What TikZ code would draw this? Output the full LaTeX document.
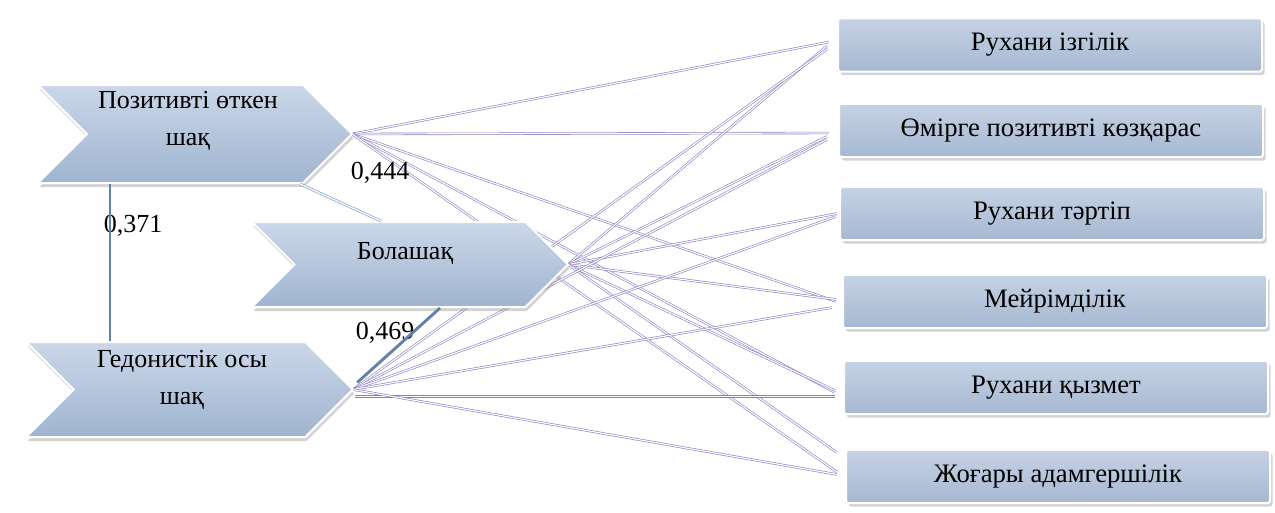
\documentclass[tikz,border=0pt]{standalone}
\usepackage{fontspec}
\setmainfont{Liberation Serif}
\usetikzlibrary{shapes.symbols,shadows,calc}

\definecolor{chevtop}{RGB}{203,215,233}
\definecolor{chevbot}{RGB}{160,180,208}
\definecolor{boxtop}{RGB}{198,210,228}
\definecolor{boxbot}{RGB}{166,184,210}
\definecolor{linkcol}{RGB}{140,124,196}
\definecolor{corrcol}{RGB}{98,130,170}
\definecolor{corrlight}{RGB}{125,158,198}

\tikzset{
  chev/.style={signal, signal to=east, signal from=west, signal pointer angle=90,
    draw=white, line width=1.5pt, top color=chevtop, bottom color=chevbot,
    drop shadow={shadow xshift=1pt, shadow yshift=-3pt, opacity=.35}, inner sep=0pt},
  outbox/.style={rectangle, rounded corners=2pt, draw=white, line width=1.5pt,
    top color=boxtop, bottom color=boxbot, minimum width=318pt, minimum height=40pt,
    drop shadow={shadow xshift=2pt, shadow yshift=-2.5pt, opacity=.35},
    font=\fontsize{20}{24}\selectfont},
  txt/.style={align=center, font=\fontsize{19.5}{27.75}\selectfont, inner sep=0.75pt},
  num/.style={font=\fontsize{19.5}{22}\selectfont, inner sep=0.75pt},
  link/.style={draw=linkcol, line width=0.45pt, double=white, double distance=0.9pt},
  corr/.style={draw=corrcol, line width=2.2pt},
  corrthin/.style={draw=corrlight, line width=0.5pt, double=white, double distance=1pt}
}

\begin{document}
\begin{tikzpicture}[x=0.75pt,y=0.75pt,yscale=-1,xscale=1]
\useasboundingbox (0,0) rectangle (1275,512);

% right boxes
\node[outbox] (r1) at (1050,45) {Рухани ізгілік};
\node[outbox] (r2) at (1051,130.5) {Өмірге позитивті көзқарас};
\node[outbox] (r3) at (1052,213.5) {Рухани тәртіп};
\node[outbox] (r4) at (1055,301.5) {Мейрімділік};
\node[outbox] (r5) at (1056,387.5) {Рухани қызмет};
\node[outbox] (r6) at (1058,476.5) {Жоғары адамгершілік};

% centres and tips of the chevrons
\path (195,134) coordinate (pastc) (410,264.5) coordinate (futc) (189.5,389.5) coordinate (hedc);
\path (pastc) ++(157,0) coordinate (pastE);
\path (futc) ++(158,0) coordinate (futE);
\path (hedc) ++(163.5,0) coordinate (hedE);

% links: Позитивті өткен шақ
\draw[link] (pastE) -- ($(r1.west)+(-8,-3)$);
\draw[link] (pastE) -- ($(r2.west)+(-9,2.5)$);
\draw[link] (pastE) -- ($(r4.west)+(-6,0)$);
\draw[link] (pastE) -- ($(r5.west)+(-8,5)$);
\draw[link] (pastE) -- ($(r6.west)+(-8,-4.5)$);
% links: Болашақ
\draw[link] (futE) -- ($(r1.west)+(-10,1)$);
\draw[link] (futE) -- ($(r2.west)+(-11,6)$);
\draw[link] (futE) -- ($(r3.west)+(-2,0)$);
\draw[link] (futE) -- ($(r4.west)+(-6,-2)$);
\draw[link] (futE) -- ($(r5.west)+(-8,3)$);
\draw[link] (futE) -- ($(r6.west)+(-8,-24)$);
% links: Гедонистік осы шақ
\draw[link] (hedE) -- ($(r1.west)+(-10,4)$);
\draw[link] (hedE) -- ($(r2.west)+(-11,9)$);
\draw[link] (hedE) -- ($(r3.west)+(-3,3)$);
\draw[link] (hedE) -- ($(r4.west)+(-10,6)$);
\draw[link] ($(hedE)+(2,7)$) -- ($(r5.west)+(-8,9)$);
\draw[link] (hedE) -- ($(r6.west)+(-8,-2)$);

% chevrons
\node[chev, minimum width=235.5pt, minimum height=73.5pt] (past) at (pastc) {};
\node[chev, minimum width=237pt, minimum height=63.75pt] (fut) at (futc) {};
\node[chev, minimum width=245pt, minimum height=71.25pt] (hed) at (hedc) {};

% Text Node
\node[txt] (pastT) at (188,121) {Позитивті өткен\\шақ};
\node[txt] (futT) at (405,253) {Болашақ};
\node[txt] (hedT) at (182,380) {Гедонистік осы\\шақ};

% correlations
\node[num] (n444) at (380,173) {0,444};
\node[num] (n371) at (133,226) {0,371};
\node[num] (n469) at (385,333) {0,469};

\coordinate (vtop) at ($(past.south)+(-85,0)$);
\draw[corr] (vtop) -- (vtop |- hed.north);
\draw[corrthin] ($(past.south)+(105,0)$) -- ($(fut.north)+(-29,0)$);
\draw[corr] ($(hed.east)+(3,-7)$) -- ($(fut.south)+(30,0)$);

\end{tikzpicture}
\end{document}
